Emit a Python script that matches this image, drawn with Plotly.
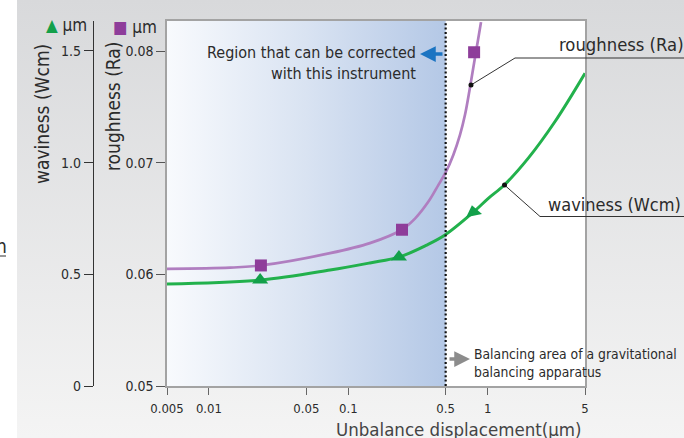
import base64
import math
import plotly.graph_objects as go

# ---------------- data ----------------
x_tickvals = [0.005, 0.01, 0.05, 0.1, 0.5, 1, 5]
x_ticktext = ["0.005", "0.01", "0.05", "0.1", "0.5", "1", "5"]
ra_tickvals = [0.05, 0.06, 0.07, 0.08]
ra_ticktext = ["0.05", "0.06", "0.07", "0.08"]
wcm_tickvals = [0, 0.5, 1.0, 1.5]
wcm_ticktext = ["0", "0.5", "1.0", "1.5"]

x_limits = [0.005, 5]
ra_limits = [0.05, 0.0827]
wcm_limits = [0, 1.634]
correctable_limit = 0.5

# roughness (Ra) curve and measured points
ra_curve_x = [0.005, 0.0142, 0.0236, 0.074, 0.143, 0.2417, 0.3012, 0.3752, 0.4428, 0.5029,
              0.5673, 0.6335, 0.6882, 0.7415, 0.7986, 0.8533, 0.8966]
ra_curve_y = [0.0605, 0.0606, 0.0608, 0.0619, 0.0628, 0.0640, 0.0650, 0.0665, 0.0680, 0.0692,
              0.0707, 0.0725, 0.0743, 0.0765, 0.0789, 0.0810, 0.0826]
ra_marker_x = [0.0236, 0.243, 0.80]
ra_marker_y = [0.0608, 0.0640, 0.0799]

# waviness (Wcm) curve and measured points
wcm_curve_x = [0.005, 0.0233, 0.074, 0.143, 0.231, 0.3655, 0.4946, 0.7896, 1.0116, 1.318,
               1.959, 3.047, 5]
wcm_curve_y = [0.457, 0.474, 0.519, 0.551, 0.577, 0.631, 0.676, 0.778, 0.840, 0.900,
               1.020, 1.184, 1.400]
wcm_marker_x = [0.0233, 0.231, 0.79]
wcm_marker_y = [0.474, 0.577, 0.778]

# ---------------- layout helpers ----------------
W, H = 684, 438
FONT = "Liberation Sans Narrow, DejaVu Sans Condensed, Roboto, sans-serif"
TXT = "#2b2b2b"


def px(x):
    return x / W


def py(y):
    return 1 - y / H


PL, PR, PT, PB = 167, 585, 21, 386  # plot area in pixels

fig = go.Figure()

# blue gradient region (correctable by this instrument)
fig.add_trace(go.Scatter(
    x=[x_limits[0], correctable_limit, correctable_limit, x_limits[0], x_limits[0]],
    y=[ra_limits[0], ra_limits[0], ra_limits[1], ra_limits[1], ra_limits[0]],
    mode="lines", line=dict(width=0), fill="toself",
    fillgradient=dict(type="horizontal",
                      colorscale=[[0, "#f8fafd"], [0.5, "#d9e3f2"], [1, "#b4c8e6"]]),
    hoverinfo="skip", showlegend=False, xaxis="x", yaxis="y"))

fig.add_trace(go.Scatter(
    x=ra_curve_x, y=ra_curve_y, mode="lines",
    line=dict(color="#b07ec0", width=2.7, shape="spline", smoothing=1.0),
    hoverinfo="skip", showlegend=False, yaxis="y"))
fig.add_trace(go.Scatter(
    x=wcm_curve_x, y=wcm_curve_y, mode="lines",
    line=dict(color="#22b14c", width=3, shape="spline", smoothing=1.0),
    hoverinfo="skip", showlegend=False, yaxis="y2"))
fig.add_trace(go.Scatter(
    x=ra_marker_x, y=ra_marker_y, mode="markers",
    marker=dict(symbol="square", size=12, color="#8e3d9a", line=dict(width=0)),
    showlegend=False, yaxis="y"))
fig.add_trace(go.Scatter(
    x=wcm_marker_x, y=wcm_marker_y, mode="markers",
    marker=dict(symbol="triangle-up", size=14, color="#13a04a", angle=[0, 0, -12],
                line=dict(width=0)),
    showlegend=False, yaxis="y2"))

# gray page background (vertical gradient)
svg = ('<svg xmlns="http://www.w3.org/2000/svg" width="10" height="100" viewBox="0 0 10 100" '
       'preserveAspectRatio="none"><defs><linearGradient id="g" x1="0" y1="0" x2="0" y2="1">'
       '<stop offset="0" stop-color="#d8d9db"/><stop offset="1" stop-color="#f4f4f4"/>'
       '</linearGradient></defs><rect width="10" height="100" fill="url(#g)"/></svg>')
bg_src = "data:image/svg+xml;base64," + base64.b64encode(svg.encode()).decode()

shapes = [
    dict(type="rect", xref="paper", yref="paper", x0=px(PL), x1=px(PR), y0=py(PB), y1=py(PT),
         fillcolor="white", line=dict(width=0), layer="below"),
    dict(type="line", xref="x", yref="paper", x0=correctable_limit, x1=correctable_limit,
         y0=py(PB), y1=py(PT), line=dict(color="#111111", width=2.2, dash="2px,2.4px")),
    # roughness label leader
    dict(type="line", xref="paper", yref="paper", x0=px(515), x1=px(684), y0=py(58), y1=py(58),
         line=dict(color="#333333", width=1)),
    dict(type="line", xref="paper", yref="paper", x0=px(515), x1=px(471), y0=py(58), y1=py(85),
         line=dict(color="#333333", width=1)),
    dict(type="circle", xref="paper", yref="paper", x0=px(468.5), x1=px(473.5), y0=py(82.5),
         y1=py(87.5), fillcolor="#111111", line=dict(width=0)),
    # waviness label leader
    dict(type="line", xref="paper", yref="paper", x0=px(540), x1=px(684), y0=py(216.5), y1=py(216.5),
         line=dict(color="#333333", width=1)),
    dict(type="line", xref="paper", yref="paper", x0=px(540), x1=px(504.5), y0=py(216.5), y1=py(185),
         line=dict(color="#333333", width=1)),
    dict(type="circle", xref="paper", yref="paper", x0=px(502), x1=px(507), y0=py(182.5),
         y1=py(187.5), fillcolor="#111111", line=dict(width=0)),
    # cut-off letter underline at left edge
    dict(type="line", xref="paper", yref="paper", x0=px(0), x1=px(6), y0=py(256), y1=py(256),
         line=dict(color="#333333", width=1)),
]

images = [dict(source=bg_src, xref="paper", yref="paper", x=px(17), y=1,
               sizex=(W - 17) / W, sizey=1, xanchor="left", yanchor="top",
               sizing="stretch", layer="below")]


def ann(text, x, y, size, xanchor="center", yanchor="middle", color=TXT, angle=0, align="left"):
    return dict(text=text, x=px(x), y=py(y), xref="paper", yref="paper", showarrow=False,
                xanchor=xanchor, yanchor=yanchor, textangle=angle, align=align,
                font=dict(family=FONT, size=size, color=color))


annotations = [
    ann("waviness (Wcm)", 42, 114, 19, angle=-90),
    ann("roughness (Ra)", 113, 107, 19, angle=-90),
    ann('<span style="color:#13a04a">▲</span> µm', 89, 25, 17, xanchor="right"),
    ann('<span style="color:#8e3d9a">■</span> µm', 159, 27, 17, xanchor="right"),
    ann("Unbalance displacement(µm)", 584, 429, 18.5, xanchor="right", color="#444444"),
    ann("Region that can be corrected<br>with this instrument", 418, 63, 16,
        xanchor="right", align="right"),
    ann("roughness (Ra)", 557, 45, 18.3, xanchor="left"),
    ann("waviness (Wcm)", 546, 204, 18, xanchor="left"),
    ann("Balancing area of a gravitational<br>balancing apparatus", 472, 363, 13.8,
        xanchor="left"),
    ann("n", 9, 246, 19, xanchor="right"),
    # blue arrow (pointing left)
    dict(x=px(420), y=py(54), ax=24, ay=0, xref="paper", yref="paper",
         axref="pixel", ayref="pixel", text="", showarrow=True, arrowhead=2,
         arrowsize=0.9, arrowwidth=3.5, arrowcolor="#1b74c2"),
    # gray arrow (pointing right)
    dict(x=px(470), y=py(359), ax=-22, ay=0, xref="paper", yref="paper",
         axref="pixel", ayref="pixel", text="", showarrow=True, arrowhead=2,
         arrowsize=0.9, arrowwidth=3.5, arrowcolor="#8c8c8c"),
]

fig.update_layout(
    width=W, height=H, margin=dict(l=0, r=0, t=0, b=0, autoexpand=False),
    paper_bgcolor="white", plot_bgcolor="rgba(0,0,0,0)",
    showlegend=False, font=dict(family=FONT, color=TXT),
    shapes=shapes, images=images, annotations=annotations,
    xaxis=dict(domain=[px(PL), px(PR)], type="log",
               range=[math.log10(x_limits[0]), math.log10(x_limits[1])],
               tickvals=x_tickvals, ticktext=x_ticktext, ticks="outside", ticklen=7,
               tickwidth=1, tickcolor="#666666", showline=True, linecolor="#a3a3a3",
               linewidth=1.5, mirror=True, showgrid=False, zeroline=False,
               tickfont=dict(family=FONT, size=13, color=TXT), ticklabelstandoff=3,
               anchor="y"),
    yaxis=dict(domain=[py(PB), py(PT)], range=ra_limits, tickvals=ra_tickvals,
               ticktext=ra_ticktext, ticks="outside", ticklen=9, tickwidth=1,
               tickcolor="#555555", showline=True, linecolor="#a3a3a3", linewidth=1.5,
               mirror=True, showgrid=False, zeroline=False,
               tickfont=dict(family=FONT, size=14, color=TXT), anchor="x"),
    yaxis2=dict(overlaying="y", anchor="free", side="left", position=px(93),
                range=wcm_limits, tickvals=wcm_tickvals, ticktext=wcm_ticktext,
                ticks="outside", ticklen=9, tickwidth=1, tickcolor="#333333",
                showline=True, linecolor="#333333", linewidth=1.2, showgrid=False,
                zeroline=False, tickfont=dict(family=FONT, size=14, color=TXT)),
)

fig.write_html("out.html", config={"displayModeBar": False},
               post_script="document.body.style.margin='0px';")
